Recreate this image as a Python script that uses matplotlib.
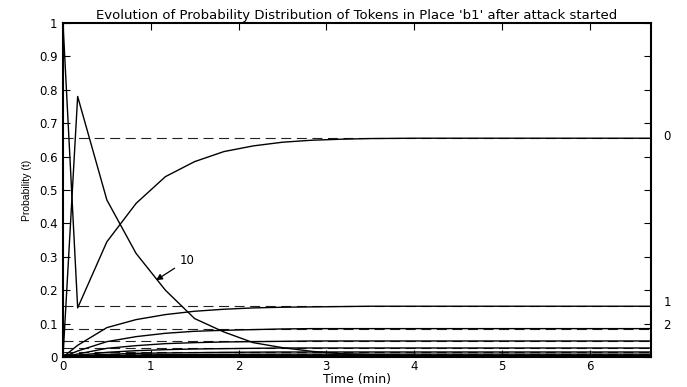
import matplotlib
matplotlib.use("Agg")
import matplotlib.pyplot as plt

plt.rcParams['font.family'] = ['DejaVu Sans']

# sample times (min)
t = [0, 0.167, 0.5, 0.833, 1.167, 1.5, 1.833, 2.167, 2.5, 2.833, 3.167,
     3.5, 4, 4.5, 5, 5.5, 6, 6.7]

# probability of k tokens in place b1
p0 = [1.0, 0.147, 0.345, 0.46, 0.54, 0.585, 0.615, 0.632, 0.643, 0.649,
      0.652, 0.654, 0.655, 0.655, 0.655, 0.655, 0.655, 0.655]
p1 = [0, 0.035, 0.088, 0.112, 0.127, 0.137, 0.143, 0.147, 0.149, 0.150,
      0.151, 0.152, 0.152, 0.152, 0.152, 0.152, 0.152, 0.152]
p2 = [0, 0.018, 0.046, 0.061, 0.071, 0.077, 0.080, 0.082, 0.084, 0.085,
      0.085, 0.085, 0.085, 0.085, 0.085, 0.085, 0.085, 0.085]
p3 = [0, 0.009, 0.026, 0.034, 0.040, 0.043, 0.045, 0.046, 0.047, 0.048,
      0.048, 0.048, 0.048, 0.048, 0.048, 0.048, 0.048, 0.048]
p4 = [0, 0.005, 0.014, 0.019, 0.022, 0.024, 0.025, 0.026, 0.027, 0.027,
      0.027, 0.027, 0.027, 0.027, 0.027, 0.027, 0.027, 0.027]
p5 = [0, 0.003, 0.008, 0.011, 0.012, 0.013, 0.014, 0.0145, 0.015, 0.015,
      0.015, 0.015, 0.015, 0.015, 0.015, 0.015, 0.015, 0.015]
p6 = [0, 0.0015, 0.0045, 0.006, 0.007, 0.0075, 0.008, 0.0082, 0.0084, 0.0085,
      0.0085, 0.0085, 0.0085, 0.0085, 0.0085, 0.0085, 0.0085, 0.0085]
p7 = [0, 0.001, 0.0025, 0.0034, 0.004, 0.0043, 0.0045, 0.0046, 0.0047, 0.0048,
      0.0048, 0.0048, 0.0048, 0.0048, 0.0048, 0.0048, 0.0048, 0.0048]
p8 = [0, 0.0005, 0.0014, 0.0019, 0.0022, 0.0024, 0.0025, 0.0026, 0.0027, 0.0027,
      0.0027, 0.0027, 0.0027, 0.0027, 0.0027, 0.0027, 0.0027, 0.0027]
p9 = [0, 0.0003, 0.0008, 0.0011, 0.0012, 0.0013, 0.0014, 0.0014, 0.0015, 0.0015,
      0.0015, 0.0015, 0.0015, 0.0015, 0.0015, 0.0015, 0.0015, 0.0015]
p10 = [0.0, 0.78, 0.47, 0.31, 0.20, 0.115, 0.075, 0.043, 0.028, 0.017,
       0.010, 0.007, 0.004, 0.002, 0.001, 0.0005, 0.0003, 0.0002]

curves = [p0, p1, p2, p3, p4, p5, p6, p7, p8, p9, p10]

# steady state levels
steady = [0.655, 0.152, 0.085, 0.048, 0.027, 0.015, 0.0085, 0.0048, 0.0027, 0.0015, 0.0008]
right_labels = ['0', '1', '2']
right_label_y = [0.66, 0.162, 0.093]

fig = plt.figure(figsize=(6.87, 3.87), dpi=100)
ax = fig.add_axes([0.0917, 0.0775, 0.8559, 0.8631])

for s in steady:
    ax.axhline(s, color='#222222', lw=0.8, dashes=(9, 5))
for c in curves:
    ax.plot(t, c, color='black', lw=1.0)

ax.set_xlim(0, 6.7)
ax.set_ylim(0, 1)
ax.set_xticks(range(0, 7))
ax.set_yticks([i / 10 for i in range(11)])
ax.set_yticklabels(['0'] + ['0.%d' % i for i in range(1, 10)] + ['1'])
ax.tick_params(direction='in', length=5, width=0.8, labelsize=8.5,
               top=True, right=True, pad=4)
ax.tick_params(axis='x', pad=2)
for sp in ax.spines.values():
    sp.set_linewidth(1.5)

for lab, y in zip(right_labels, right_label_y):
    ax.text(6.84, y, lab, fontsize=8.5, ha='left', va='center', clip_on=False)

ax.annotate('10', xy=(1.06, 0.23), xytext=(1.33, 0.29), fontsize=8.5,
            ha='left', va='center',
            arrowprops=dict(arrowstyle='-|>', color='black', lw=0.9,
                            mutation_scale=9, shrinkA=2, shrinkB=0))

ax.set_title("Evolution of Probability Distribution of Tokens in Place 'b1' after attack started",
             fontsize=9.5, pad=3)
ax.set_xlabel('Time (min)', fontsize=9, va='center')
ax.xaxis.set_label_coords(0.5, -0.066)
ax.set_ylabel('Probability (t)', fontsize=7.5, labelpad=5,
              family=['Liberation Sans Narrow', 'Liberation Sans'])

fig.savefig('out.png', dpi=100)
